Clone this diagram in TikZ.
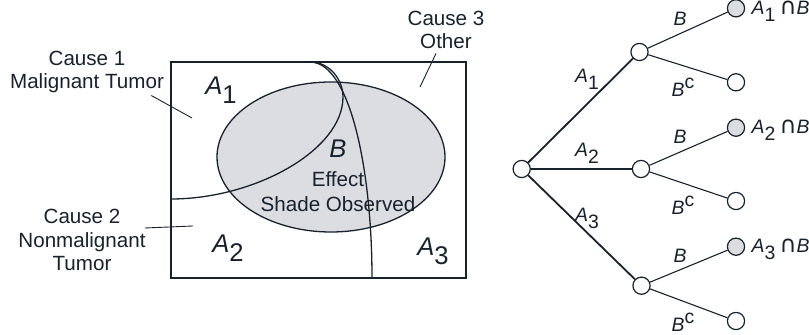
\documentclass[tikz,border=0pt]{standalone}
\usepackage{fontspec}
\setmainfont{Liberation Sans}
\newfontfamily\symfont{DejaVu Sans}
\usepackage{graphicx}
\usetikzlibrary{positioning}
\definecolor{inkcol}{RGB}{22,34,46}
\definecolor{shadecol}{RGB}{220,221,224}
\tikzstyle{venn} = [draw=inkcol, line width=0.65pt]
\tikzstyle{pointer} = [draw=inkcol, line width=0.45pt]
\tikzstyle{cause} = [align=center, inner sep=0pt, text=inkcol,
    font=\fontsize{10.3}{11.8}\selectfont]
\tikzstyle{region} = [inner sep=0pt, text=inkcol, font=\fontsize{12.8}{14}\selectfont]
\tikzstyle{event} = [circle, draw=inkcol, fill=white, line width=0.6pt,
    minimum size=8.6pt, inner sep=0pt]
\tikzstyle{hit} = [event, fill=shadecol]
\tikzstyle{trunk} = [draw=inkcol, line width=0.9pt]
\tikzstyle{twig} = [draw=inkcol, line width=0.55pt]
\tikzstyle{branchlabel} = [inner sep=0pt, text=inkcol, font=\fontsize{9.7}{10}\selectfont]
\newcommand{\Aof}[1]{\textit{A}\raisebox{-0.36em}{#1}}
\newcommand{\Bnot}{\textit{B}\raisebox{0.4em}{c}}
\newcommand{\meet}{\hspace{0.22em}\scalebox{1.2}{\symfont ∩}}

\begin{document}
\begin{tikzpicture}[x=0.5pt, y=-0.5pt]
    \useasboundingbox (0,0) rectangle (809,335);
    % Venn diagram
    \fill[shadecol] (331,157) ellipse [x radius=114, y radius=75];
    \draw[venn] (331,157) ellipse [x radius=114, y radius=75];
    \draw[venn] (310,62) .. controls (330,62) and (343,80) .. (343,97)
        .. controls (343,150) and (255,199) .. (171,199);
    \draw[venn] (310,62) .. controls (350,62) and (372,170) .. (372,278);
    \draw[venn] (171,62) rectangle (466,278);

    \node[region] (A1) at (221,90) {\Aof{1}};
    \node[region] (A2) at (228,248) {\Aof{2}};
    \node[region] (A3) at (433,251) {\Aof{3}};
    \node[region] (B) at (338,149) {\textit{B}};
    \node[cause, font=\fontsize{10.3}{12.5}\selectfont, below=6.5pt of B.south, anchor=north]
        (effect) {Effect\\Shade Observed};

    \node[cause] (cause1) at (87,72) {Cause 1\\Malignant Tumor};
    \node[cause] (cause2) at (82,240) {Cause 2\\Nonmalignant\\Tumor};
    \node[cause] (cause3) at (446,30) {Cause 3\\Other};
    \coordinate (in1) at (192,118);
    \coordinate (in2) at (193,226);
    \coordinate (in3) at (420,87);
    \draw[pointer] ([xshift=-6.5pt,yshift=-1pt]cause1.south east) -- (in1);
    \draw[pointer] ([xshift=-0.5pt,yshift=6pt]cause2.east) -- (in2);
    \draw[pointer] ([xshift=-5pt,yshift=-2pt]cause3.south) -- (in3);

    % tree diagram
    \node[event] (root) at (521.7,169) {};
    \node[event] (a1) at (639.5,52) {};
    \node[event] (a2) at (641,169) {};
    \node[event] (a3) at (641.5,285.7) {};
    \node[hit] (a1b) at (736,8.3) {};
    \node[event] (a1n) at (736,82.3) {};
    \node[hit] (a2b) at (736,127.7) {};
    \node[event] (a2n) at (736,201) {};
    \node[hit] (a3b) at (736,246.7) {};
    \node[event] (a3n) at (736,321) {};

    \draw[trunk] (root) -- (a1);
    \draw[trunk] (root) -- (a2);
    \draw[trunk] (root) -- (a3);
    \draw[twig] (a1) -- (a1b);
    \draw[twig] (a1) -- (a1n);
    \draw[twig] (a2) -- (a2b);
    \draw[twig] (a2) -- (a2n);
    \draw[twig] (a3) -- (a3b);
    \draw[twig] (a3) -- (a3n);

    \node[branchlabel] (lA1) at (587,79) {\Aof{1}};
    \node[branchlabel] (lA2) at (587,153) {\Aof{2}};
    \node[branchlabel] (lA3) at (587,218) {\Aof{3}};
    \node[branchlabel] (lB1) at (680,19) {\textit{B}};
    \node[branchlabel] (lN1) at (683,87) {\Bnot};
    \node[branchlabel] (lB2) at (680,137) {\textit{B}};
    \node[branchlabel] (lN2) at (683,205) {\Bnot};
    \node[branchlabel] (lB3) at (680,256) {\textit{B}};
    \node[branchlabel] (lN3) at (683,322) {\Bnot};

    \node[branchlabel, right=3pt of a1b, yshift=-1.5pt] (j1) {\Aof{1}\meet\textit{B}};
    \node[branchlabel, right=3pt of a2b, yshift=-1.5pt] (j2) {\Aof{2}\meet\textit{B}};
    \node[branchlabel, right=3pt of a3b, yshift=-1.5pt] (j3) {\Aof{3}\meet\textit{B}};
\end{tikzpicture}
\end{document}
